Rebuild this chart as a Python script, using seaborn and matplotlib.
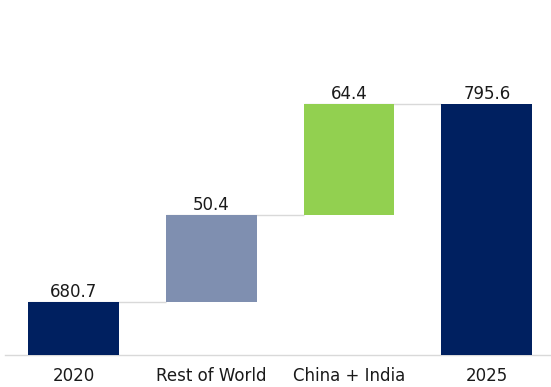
import matplotlib
matplotlib.use("Agg")
import matplotlib.pyplot as plt
import seaborn as sns
import pandas as pd

categories = ["2020", "Rest of World", "China + India", "2025"]
values = [680.7, 50.4, 64.4, 795.6]
labels = ["680.7", "50.4", "64.4", "795.6"]
bar_colors = ["#002060", "#7F8FB0", "#92D050", "#002060"]

# floating bottoms for the step bars
bottoms = [0, values[0], values[0] + values[1], 0]
tops = [b + v for b, v in zip(bottoms, values)]

sns.set_theme(style="white")
plt.rcParams["font.family"] = ["DejaVu Sans"]

fig = plt.figure(figsize=(5.51, 3.87), dpi=100)
ax = fig.add_axes([0.0084, 0.0827, 1.0, 0.9173])

df = pd.DataFrame({"cat": categories, "val": values})
width = 0.66
sns.barplot(data=df, x="cat", y="val", color="#002060", width=width,
            bottom=bottoms, ax=ax, saturation=1, linewidth=0, zorder=3,
            errorbar=None)

container = ax.containers[0]
for patch, col in zip(container.patches, bar_colors):
    patch.set_facecolor(col)
ax.bar_label(container, labels=labels, padding=1, fontsize=12, color="#1a1a1a")

for i in range(len(categories) - 1):
    ax.hlines(tops[i], i - width / 2, i + 1 - width / 2,
              color="#D9D9D9", lw=1, zorder=2)

ax.set_ylim(650, 856)
ax.set_xlim(-0.5, 3.5)
ax.set_xlabel("")
ax.set_ylabel("")
ax.set_yticks([])
for s in ["top", "right", "left"]:
    ax.spines[s].set_visible(False)
ax.spines["bottom"].set_color("#D9D9D9")
ax.spines["bottom"].set_linewidth(1)
ax.tick_params(axis="x", length=0, labelsize=12, labelcolor="#1a1a1a", pad=9)

fig.savefig("out.png", dpi=100)
